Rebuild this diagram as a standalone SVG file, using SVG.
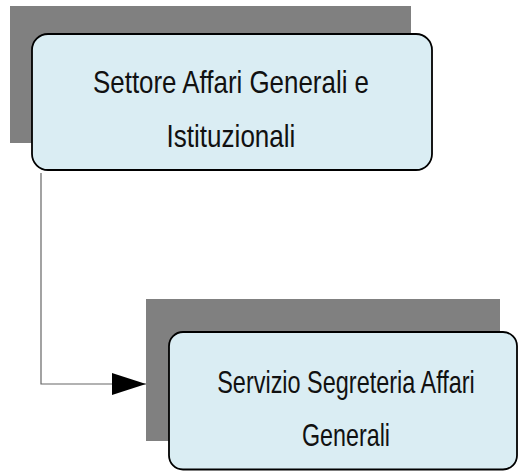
<svg xmlns="http://www.w3.org/2000/svg" width="518" height="471" viewBox="0 0 518 471">
  <style>
    .shadow { fill: #808080; }
    .box { fill: #DAEDF3; stroke: #000000; stroke-width: 1.8; }
    .label { font-family: "Liberation Sans", Arial, sans-serif; font-size: 32px; fill: #111111; text-anchor: middle; }
    .conn { fill: none; stroke: #666666; stroke-width: 1.2; }
  </style>
  <defs>
    <marker id="arrow" markerUnits="userSpaceOnUse" markerWidth="36" markerHeight="24" refX="34" refY="11" orient="auto">
      <path d="M0,0 L34,11 L0,22 Z" fill="#000000"/>
    </marker>
  </defs>
  <rect width="518" height="471" fill="#ffffff"/>

  <g id="connectors">
    <path class="conn" d="M41,173 L41,384 L146,384" marker-end="url(#arrow)"/>
  </g>

  <g id="node-settore">
    <rect class="shadow" x="10" y="6" width="401" height="137"/>
    <rect class="box" x="32" y="34" width="400" height="136" rx="16" ry="16"/>
    <text class="label" transform="translate(231,93) scale(0.8,1)" x="0" y="0" textLength="345" lengthAdjust="spacingAndGlyphs">Settore Affari Generali e</text>
    <text class="label" transform="translate(231,147) scale(0.8,1)" x="0" y="0" textLength="161" lengthAdjust="spacingAndGlyphs">Istituzionali</text>
  </g>

  <g id="node-servizio">
    <rect class="shadow" x="146" y="299" width="354" height="142"/>
    <rect class="box" x="169" y="332" width="348" height="137.5" rx="14" ry="14"/>
    <text class="label" transform="translate(346,393) scale(0.8,1)" x="0" y="0" textLength="322" lengthAdjust="spacingAndGlyphs">Servizio Segreteria Affari</text>
    <text class="label" transform="translate(346,446) scale(0.8,1)" x="0" y="0" textLength="110" lengthAdjust="spacingAndGlyphs">Generali</text>
  </g>
</svg>
